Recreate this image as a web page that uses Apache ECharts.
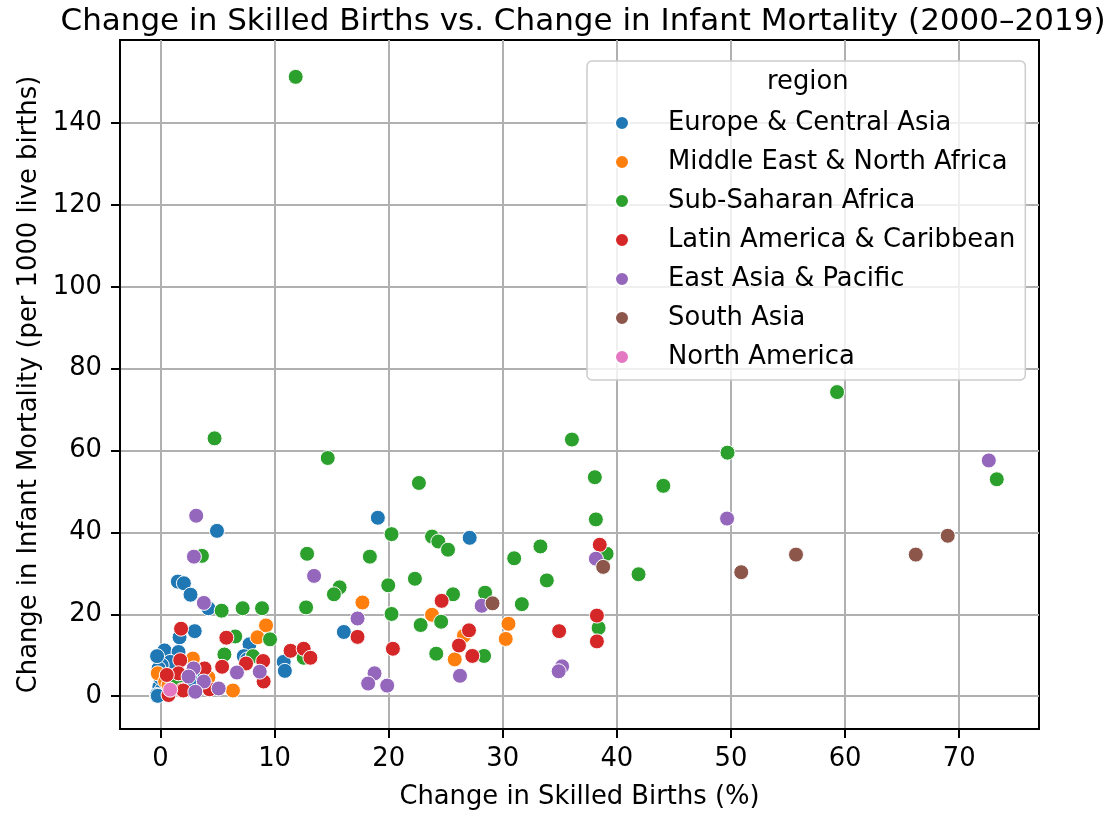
<!DOCTYPE html>
<html>
<head>
<meta charset="utf-8">
<script src="https://cdn.jsdelivr.net/npm/echarts@6/dist/echarts.min.js"></script>
<style>html,body{margin:0;padding:0;background:#fff}#c{width:1106px;height:815px}</style>
</head>
<body>
<div id="c"></div>
<script>
const regions = ["Europe & Central Asia","Middle East & North Africa","Sub-Saharan Africa","Latin America & Caribbean","East Asia & Pacific","South Asia","North America"];
const colors = ["#1f77b4","#ff7f0e","#2ca02c","#d62728","#9467bd","#8c564b","#e377c2"];
const xTicks = [0,10,20,30,40,50,60,70];
const yTicks = [0,20,40,60,80,100,120,140];

const europeCentralAsia = [[19.05,43.6],[27.1,38.7],[16.07,15.7],[10.8,8.4],[10.9,6.2],[4.95,40.4],[1.52,28.0],[2.05,27.6],[2.63,24.8],[4.2,21.5],[3.0,15.9],[1.67,14.4],[7.8,12.7],[0.35,11.2],[1.58,10.8],[0.85,8.4],[7.3,9.8],[7.6,9.0],[0.1,7.6],[-0.17,6.8],[2.75,3.1],[3.86,4.8],[-0.1,2.3],[2.75,3.6],[0.1,1.5],[-0.32,0.3],[-0.24,0.1],[4.07,1.9],[-0.3,9.8],[0.0,4.5]];
const middleEastNorthAfrica = [[17.7,22.9],[23.8,19.9],[30.5,17.7],[30.26,14.0],[26.6,14.8],[25.79,9.0],[9.25,17.3],[8.5,14.4],[2.84,9.2],[6.35,1.4],[-0.24,5.6],[0.41,3.6],[4.2,4.6],[0.7,2.7]];
const subSaharanAfrica = [[11.85,151.3],[4.74,63.0],[59.3,74.3],[73.3,53.0],[49.7,59.5],[36.06,62.7],[44.07,51.4],[38.07,53.5],[38.16,43.2],[14.66,58.2],[22.65,52.1],[20.25,39.6],[23.8,39.0],[24.35,37.8],[25.2,35.8],[12.85,34.8],[18.35,34.1],[31.0,33.7],[33.3,36.6],[15.7,26.6],[15.2,24.9],[19.96,27.1],[22.3,28.7],[12.76,21.7],[20.25,20.1],[25.64,24.9],[28.45,25.3],[31.67,22.5],[22.8,17.4],[24.6,18.2],[28.36,9.85],[24.17,10.4],[12.55,9.4],[39.1,34.8],[33.86,28.3],[41.9,29.8],[38.4,16.7],[3.63,34.3],[5.36,20.9],[7.2,21.5],[8.9,21.5],[9.6,13.9],[6.55,14.6],[5.6,10.2],[8.1,9.8],[1.4,3.6]];
const latinAmericaCaribbean = [[24.64,23.3],[17.27,14.5],[20.37,11.6],[27.04,16.1],[26.16,12.4],[27.33,9.85],[11.4,11.1],[12.55,11.6],[13.14,9.4],[38.5,37.0],[38.25,19.7],[38.25,13.4],[34.94,15.9],[1.8,16.5],[5.77,14.3],[1.73,8.8],[7.5,8.0],[9.0,8.6],[5.4,7.2],[3.86,6.8],[9.04,3.6],[1.87,1.5],[0.7,0.3],[1.58,5.6],[3.86,2.3],[4.3,1.7],[0.55,5.2],[2.0,1.4]];
const eastAsiaPacific = [[13.46,29.4],[17.27,19.0],[28.15,22.1],[26.25,5.0],[18.76,5.6],[18.2,3.1],[19.87,2.6],[49.66,43.4],[38.16,33.6],[35.2,7.3],[34.9,6.1],[72.6,57.6],[3.13,44.1],[2.93,34.1],[3.8,22.8],[6.7,5.8],[8.7,6.0],[5.1,1.9],[2.9,6.8],[3.8,3.6],[3.05,1.1],[2.46,4.8]];
const southAsia = [[29.1,22.7],[38.8,31.6],[50.9,30.3],[55.7,34.6],[66.2,34.6],[69.0,39.2]];
const northAmerica = [[0.85,1.6]];

const seriesData = [europeCentralAsia, middleEastNorthAfrica, subSaharanAfrica, latinAmericaCaribbean, eastAsiaPacific, southAsia, northAmerica];

const FONT = "DejaVu Sans";
const FS = 25.8;
const chart = echarts.init(document.getElementById('c'), null, {renderer:'canvas'});
chart.setOption({
  animation: false,
  backgroundColor: '#fff',
  color: colors,
  title: {
    text: 'Change in Skilled Births vs. Change in Infant Mortality (2000–2019)',
    left: 578, textAlign: 'center', top: 1,
    textStyle: {fontFamily: FONT, fontSize: 31, fontWeight: 'normal', color: '#000'}
  },
  grid: {left: 120, right: 67, top: 40, bottom: 80, show: true, borderColor: '#000', borderWidth: 2, backgroundColor: 'transparent'},
  xAxis: {
    type: 'value', min: -3.55, max: 77.0, splitNumber: 8,
    name: 'Change in Skilled Births (%)', nameLocation: 'middle', nameGap: 55,
    nameTextStyle: {fontFamily: FONT, fontSize: FS, color: '#000'},
    axisLine: {show: true, onZero: false, lineStyle: {color: '#000', width: 2}},
    axisTick: {show: true, length: 9, lineStyle: {color: '#000', width: 2}, customValues: xTicks},
    axisLabel: {fontFamily: FONT, fontSize: FS, color: '#000', margin: 17, customValues: xTicks},
    splitLine: {show: true, lineStyle: {color: '#b0b0b0', width: 2}}
  },
  yAxis: {
    type: 'value', min: -8.0, max: 160.3, splitNumber: 8,
    name: 'Change in Infant Mortality (per 1000 live births)', nameLocation: 'middle', nameGap: 77,
    nameTextStyle: {fontFamily: FONT, fontSize: FS, color: '#000'},
    axisLine: {show: true, onZero: false, lineStyle: {color: '#000', width: 2}},
    axisTick: {show: true, length: 9, lineStyle: {color: '#000', width: 2}, customValues: yTicks},
    axisLabel: {fontFamily: FONT, fontSize: FS, color: '#000', margin: 18, customValues: yTicks},
    splitLine: {show: true, lineStyle: {color: '#b0b0b0', width: 2}}
  },
  legend: {
    orient: 'vertical', left: 587, top: 61,
    data: regions, icon: 'circle', itemWidth: 14, itemHeight: 14, itemGap: 13,
    padding: [49, 10, 10, 27],
    backgroundColor: 'rgba(255,255,255,0.8)', borderColor: '#cccccc', borderWidth: 1.5, borderRadius: 5,
    textStyle: {fontFamily: FONT, fontSize: FS, color: '#000', padding: [0,0,0,34]},
    z: 10
  },
  graphic: [{
    type: 'text', left: 806 - 39, top: 69, z: 100,
    style: {text: 'region', fontFamily: FONT, fontSize: FS, fill: '#000'}
  }],
  series: regions.map((r, i) => ({
    name: r, type: 'scatter', data: seriesData[i], symbolSize: 15,
    itemStyle: {color: colors[i], borderColor: '#fff', borderWidth: 1, opacity: 1},
    emphasis: {disabled: true}, z: 2
  }))
});
</script>
</body>
</html>
